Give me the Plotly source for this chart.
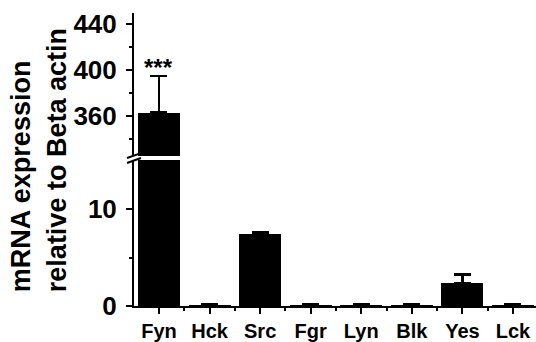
import plotly.graph_objects as go

# Kinase mRNA expression relative to beta actin
genes = ["Fyn", "Hck", "Src", "Fgr", "Lyn", "Blk", "Yes", "Lck"]
expression = [362.6, 0.15, 7.45, 0.15, 0.15, 0.15, 2.35, 0.15]
sem = [32.0, 0.0, 0.2, 0.0, 0.0, 0.0, 0.9, 0.0]
no_lower = [0.0] * len(genes)

low_ticks = [0, 10]
high_ticks = [360, 400, 440]

FONT = "Liberation Sans, Arial, sans-serif"
positions = list(range(len(genes)))

# pixel layout of the plotting area
W, H = 536, 342
L, R, T, B = 134, 0, 13, 32
plot_h = H - T - B


def py(pix):
    """Paper y fraction for a pixel row."""
    return (H - B - pix) / plot_h


def px(pix):
    return (pix - L) / (W - L - R)


fig = go.Figure()

for yaxis in ("y", "y2"):
    fig.add_trace(go.Bar(
        x=positions, y=expression, yaxis=yaxis,
        width=0.83,
        marker=dict(color="black", line=dict(width=0)),
        error_y=dict(type="data", symmetric=False, array=sem, arrayminus=no_lower,
                     color="black", thickness=2.5, width=8.5),
        showlegend=False, cliponaxis=True,
    ))

axis_common = dict(
    showline=True, linecolor="black", linewidth=2,
    ticks="outside", ticklen=6, tickwidth=2, tickcolor="black",
    ticklabelstandoff=4,
    showgrid=False, zeroline=False,
    tickfont=dict(family=FONT, size=26, color="black", weight="bold"),
)

fig.update_layout(
    width=W, height=H,
    margin=dict(l=L, r=R, t=T, b=B, pad=0),
    paper_bgcolor="white", plot_bgcolor="white",
    bargap=0,
    xaxis=dict(
        range=[-0.494, 7.455],
        tickmode="array", tickvals=positions, ticktext=genes,
        showline=True, linecolor="black", linewidth=2,
        ticks="outside", ticklen=6, tickwidth=2, tickcolor="black",
        minor=dict(ticks="outside", ticklen=3, tickwidth=2, tickcolor="black",
                   tick0=0.5, dtick=1),
        showgrid=False, zeroline=False,
        tickfont=dict(family=FONT, size=20, color="black", weight="bold"),
        anchor="y",
    ),
    yaxis=dict(
        domain=[0, py(162)], range=[0, 15.1],
        tickmode="array", tickvals=low_ticks, ticktext=[str(v) for v in low_ticks],
        minor=dict(ticks="outside", ticklen=3, tickwidth=2, tickcolor="black",
                   tickvals=[5]),
        **axis_common,
    ),
    yaxis2=dict(
        domain=[py(158), 1], range=[324.7, 449.7],
        tickmode="array", tickvals=high_ticks, ticktext=[str(v) for v in high_ticks],
        minor=dict(ticks="outside", ticklen=3, tickwidth=2, tickcolor="black",
                   tickvals=[340, 380, 420]),
        anchor="x",
        **axis_common,
    ),
)

# axis break marks
for y_left, y_right in ((160, 155), (165, 160)):
    fig.add_shape(type="line", xref="paper", yref="paper",
                  x0=px(127), x1=px(141), y0=py(y_left), y1=py(y_right),
                  line=dict(color="black", width=2))

# significance marker above Fyn
fig.add_annotation(x=0, y=expression[0] + sem[0], xref="x", yref="y2",
                   text="***", showarrow=False, yanchor="bottom", yshift=-7,
                   font=dict(family=FONT, size=24, color="black", weight="bold"))

# two-line y-axis title
for text, xpix in (("mRNA expression", 21), ("relative to Beta actin", 57)):
    fig.add_annotation(x=px(xpix), y=py(298), xref="paper", yref="paper",
                       text=text, textangle=-90, showarrow=False,
                       xanchor="center", yanchor="bottom",
                       font=dict(family=FONT, size=27, color="black", weight="bold"))

fig.write_html("out.html")
